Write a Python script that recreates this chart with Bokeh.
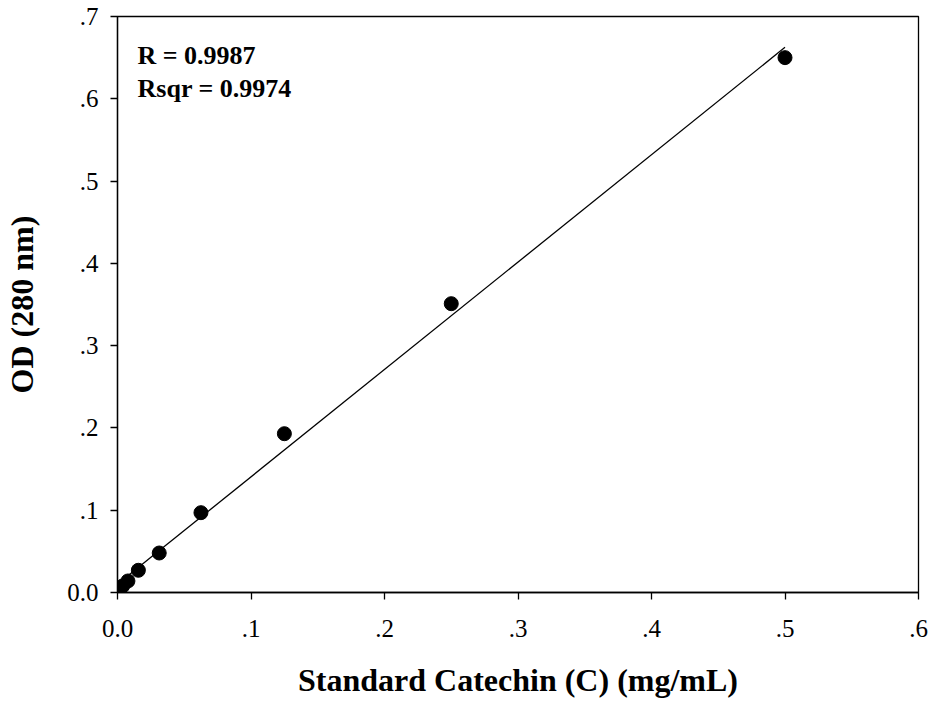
import numpy as np
from bokeh.plotting import figure
from bokeh.models import FixedTicker, Label, Range1d
from bokeh.embed import file_html
from bokeh.resources import INLINE

# Catechin standard curve: serial dilutions and absorbance at 280 nm
conc_mg_ml = [0.5, 0.25, 0.125, 0.0625, 0.03125, 0.015625, 0.0078125, 0.00390625, 0.001953125]
od_280 = [0.650, 0.351, 0.193, 0.097, 0.048, 0.027, 0.014, 0.008, 0.005]

x_ticks = [0.0, 0.1, 0.2, 0.3, 0.4, 0.5, 0.6]
x_tick_labels = ["0.0", ".1", ".2", ".3", ".4", ".5", ".6"]
y_ticks = [0.0, 0.1, 0.2, 0.3, 0.4, 0.5, 0.6, 0.7]
y_tick_labels = ["0.0", ".1", ".2", ".3", ".4", ".5", ".6", ".7"]

stats_lines = ["R = 0.9987", "Rsqr = 0.9974"]

SERIF = "Liberation Serif"

p = figure(
    width=933, height=701,
    output_backend="svg", toolbar_location=None,
    x_range=Range1d(0, 0.6), y_range=Range1d(0, 0.7),
    min_border_left=117, min_border_right=15,
    min_border_top=16, min_border_bottom=109,
)
p.grid.visible = False
p.background_fill_color = "white"
p.border_fill_color = "white"
p.outline_line_color = "black"
p.outline_line_width = 1.3
p.outline_line_alpha = 1.0

# Least-squares fit line over the measured range
slope, intercept = np.polyfit(conc_mg_ml, od_280, 1)
fit_x = np.array([min(conc_mg_ml), max(conc_mg_ml)])
p.line(fit_x, slope * fit_x + intercept, line_color="black", line_width=1.3)

p.scatter(conc_mg_ml, od_280, size=14, marker="circle",
          fill_color="black", line_color="black")

for ax, ticks, labels in ((p.xaxis[0], x_ticks, x_tick_labels),
                          (p.yaxis[0], y_ticks, y_tick_labels)):
    ax.ticker = FixedTicker(ticks=ticks)
    ax.major_label_overrides = {t: l for t, l in zip(ticks, labels)}
    ax.minor_tick_line_color = None
    ax.major_tick_in = 0
    ax.major_tick_out = 7
    ax.major_tick_line_width = 1.3
    ax.axis_line_width = 1.3
    ax.major_label_text_font = SERIF
    ax.major_label_text_font_size = "25px"
    ax.major_label_text_color = "black"
    ax.axis_label_text_font = SERIF
    ax.axis_label_text_font_style = "bold"
    ax.axis_label_text_font_size = "32px"
    ax.axis_label_text_color = "black"

p.xaxis.axis_label = "Standard Catechin (C) (mg/mL)"
p.yaxis.axis_label = "OD (280 nm)"
p.xaxis.major_label_standoff = 20
p.xaxis.axis_label_standoff = 22
p.yaxis.major_label_standoff = 12
p.yaxis.axis_label_standoff = 24

for i, txt in enumerate(stats_lines):
    p.add_layout(Label(
        x=0.015, y=0.6526 - i * 0.040, text=txt,
        text_font=SERIF, text_font_style="bold", text_font_size="26px",
        text_baseline="middle", text_align="left", text_color="black",
    ))

open("out.html", "w").write(file_html(p, INLINE))
